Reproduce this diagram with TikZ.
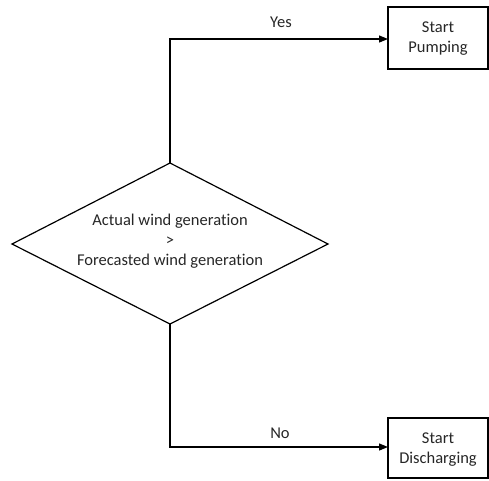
\documentclass[tikz,border=0pt]{standalone}
\usepackage{fontspec}
\setmainfont{Carlito}[Ligatures=NoCommon]
\usetikzlibrary{shapes.geometric,arrows.meta}
\begin{document}
\begin{tikzpicture}[x=1pt,y=-1pt,
  every node/.style={font=\fontsize{16.5}{20}\selectfont, text=black!85},
  line/.style={draw=black, line width=1.2pt},
  arr/.style={line, -{Triangle[length=9pt,width=7pt]}},
  boxstyle/.style={draw=black, line width=1.2pt, align=center}
]
\useasboundingbox (0,0) rectangle (489,480);
\path[line] (12,244) coordinate (dl) -- (170,163) coordinate (dt) -- (328,244) coordinate (dr) -- (170,324) coordinate (db) -- cycle;
\node[align=center] (dtext) at (170,241) {Actual wind generation\\>\\Forecasted wind generation};
\draw[boxstyle] (388,7) rectangle (488,69);
\node[align=center] (b1) at (438,39) {Start\\Pumping};
\draw[boxstyle] (388,418) rectangle (488,478);
\node[align=center] (b2) at (438,449.5) {Start\\Discharging};
\coordinate (b1w) at (388,39);
\coordinate (b2w) at (388,447);
\draw[arr] (dt) |- (b1w);
\draw[arr] (db) |- (b2w);
\node (yes) at (281,22) {Yes};
\node (no) at (280,433) {No};
\end{tikzpicture}
\end{document}
